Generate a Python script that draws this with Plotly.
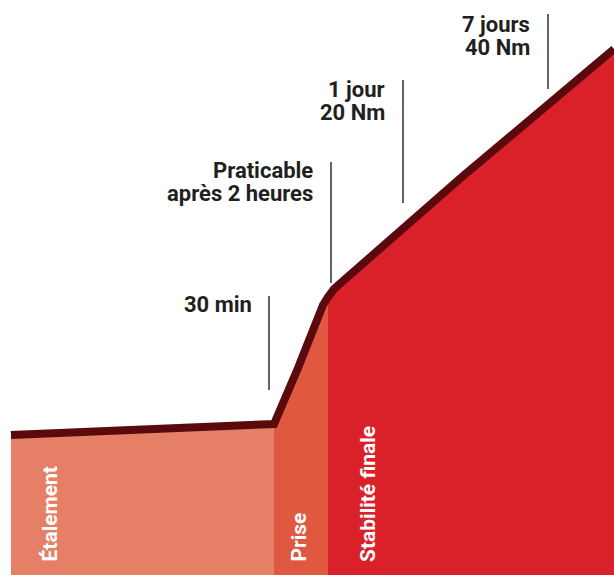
import plotly.graph_objects as go

# Curve of strength over time (chart units; 0 at the bottom)
curve_x = [11, 274, 298, 316, 323, 328, 334, 343, 377, 410, 463, 614]
curve_y = [140, 151, 207, 255, 270, 278, 286, 294, 324, 353, 399, 526]

# Phase segments (x boundaries) and labels
phase_names = ["Étalement", "Prise", "Stabilité finale"]
phase_bounds = [(11, 274), (274, 328), (328, 614)]
phase_colors = ["#E58066", "#E05840", "#DA2129"]
phase_label_x = [49, 298, 368]

# Milestone annotations (one list of text lines per milestone)
milestone_lines = [["30 min"], ["Praticable", "après 2 heures"], ["1 jour", "20 Nm"], ["7 jours", "40 Nm"]]
milestone_text_right = [252, 313, 385, 530]
milestone_first_baseline = [263, 397, 478, 543]
milestone_line_x = [269, 331, 403, 548]
milestone_line_top = [279, 413, 495, 561]
milestone_line_bottom = [185, 292, 372, 486]

line_color = "#5A0A0C"
text_color = "#231F20"
FONT = "Roboto"
FS = 22
LINE_GAP = 23
CAP = 15

fig = go.Figure()

for (x0, x1), col in zip(phase_bounds, phase_colors):
    xs = [x for x in curve_x if x0 <= x <= x1]
    ys = [y for x, y in zip(curve_x, curve_y) if x0 <= x <= x1]
    fig.add_trace(go.Scatter(x=xs, y=ys, mode="lines", line=dict(width=0, color=col),
                             fill="tozeroy", fillcolor=col, hoverinfo="skip", showlegend=False))

fig.add_trace(go.Scatter(x=curve_x, y=curve_y, mode="lines",
                         line=dict(color=line_color, width=8),
                         hoverinfo="skip", showlegend=False))

for name, lx in zip(phase_names, phase_label_x):
    fig.add_annotation(x=lx, y=11, text="<b>" + name + "</b>", textangle=-90,
                       showarrow=False, xanchor="center", yanchor="bottom",
                       font=dict(family=FONT, size=21, color="white"))

for lines, rx, base, lx, top, bot in zip(milestone_lines, milestone_text_right, milestone_first_baseline,
                                          milestone_line_x, milestone_line_top, milestone_line_bottom):
    fig.add_shape(type="line", x0=lx, x1=lx, y0=bot, y1=top,
                  line=dict(color="#333333", width=1.5))
    for i, t in enumerate(lines):
        fig.add_annotation(x=rx, y=base - i * LINE_GAP + CAP / 2, text="<b>" + t + "</b>",
                           showarrow=False, xanchor="right", yanchor="middle", align="right",
                           xshift=2,
                           font=dict(family=FONT, size=FS, color=text_color))

fig.update_layout(
    width=614, height=575,
    margin=dict(l=0, r=0, t=0, b=0),
    paper_bgcolor="white", plot_bgcolor="white",
    xaxis=dict(range=[0, 614], visible=False, fixedrange=True),
    yaxis=dict(range=[0, 575], visible=False, fixedrange=True),
)

fig.write_html("out.html", config={"displayModeBar": False},
               post_script="document.body.style.margin='0';document.body.style.overflow='hidden';")
